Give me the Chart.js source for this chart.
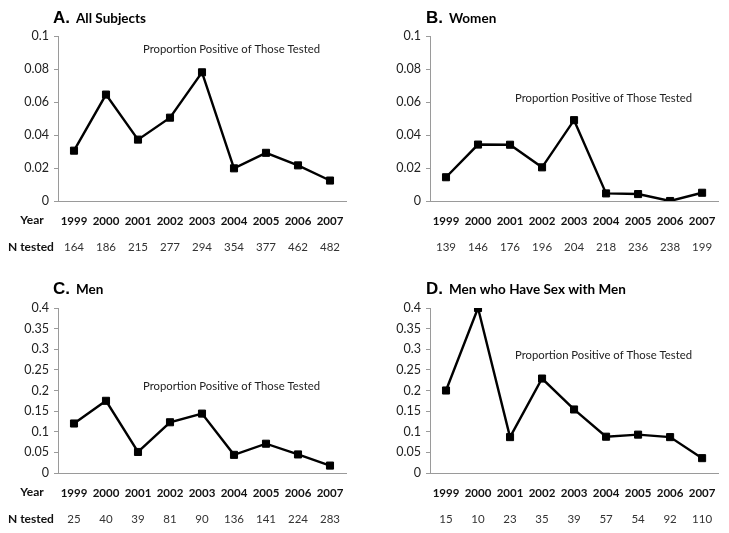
<!DOCTYPE html>
<html>
<head>
<meta charset="utf-8">
<script src="https://cdn.jsdelivr.net/npm/chart.js@4.4.0/dist/chart.umd.min.js"></script>
<style>
body { margin: 0; background: #fff; width: 729px; height: 533px; position: relative; overflow: hidden; }
canvas { position: absolute; }
</style>
</head>
<body>
<canvas id="panelA" width="365" height="260" style="left:0;top:0;width:365px;height:260px"></canvas>
<canvas id="panelB" width="364" height="260" style="left:365px;top:0;width:364px;height:260px"></canvas>
<canvas id="panelC" width="365" height="273" style="left:0;top:260px;width:365px;height:273px"></canvas>
<canvas id="panelD" width="364" height="273" style="left:365px;top:260px;width:364px;height:273px"></canvas>
<script>
var years = ['1999', '2000', '2001', '2002', '2003', '2004', '2005', '2006', '2007'];

var propAll = [0.0305, 0.0645, 0.0372, 0.0505, 0.078, 0.0198, 0.0292, 0.0216, 0.0124];
var nAll = [164, 186, 215, 277, 294, 354, 377, 462, 482];

var propWomen = [0.0144, 0.0342, 0.0341, 0.0204, 0.049, 0.0046, 0.0042, 0, 0.005];
var nWomen = [139, 146, 176, 196, 204, 218, 236, 238, 199];

var propMen = [0.12, 0.175, 0.051, 0.123, 0.144, 0.044, 0.071, 0.045, 0.018];
var nMen = [25, 40, 39, 81, 90, 136, 141, 224, 283];

var propMsm = [0.2, 0.4, 0.087, 0.229, 0.154, 0.088, 0.093, 0.087, 0.036];
var nMsm = [15, 10, 23, 35, 39, 57, 54, 92, 110];

var FONT = 'Lato, "Open Sans", sans-serif';
var axisColor = '#9a9a9a';
var note = 'Proportion Positive of Those Tested';

// titles, the note, the N tested row and the row labels on the left
function textPlugin(o) {
  return {
    id: 'panelText',
    afterDraw: function (chart) {
      var c = chart.ctx;
      var sx = chart.scales.x;
      c.save();
      c.fillStyle = '#000';
      c.textAlign = 'left';
      c.textBaseline = 'alphabetic';
      c.font = 'bold 17px "Liberation Sans", Arial, sans-serif';
      c.fillText(o.letter, o.titleX, o.titleY);
      var w = c.measureText(o.letter).width;
      c.font = 'bold 13.5px ' + FONT;
      c.fillText(o.title, o.titleX + w + 6, o.titleY);

      c.fillStyle = '#222';
      c.font = '11.3px ' + FONT;
      c.textBaseline = 'middle';
      c.fillText(note, o.noteX, o.noteY);

      // N tested under each year, placed by the category scale
      c.font = '11.5px ' + FONT;
      c.fillStyle = '#333';
      c.textAlign = 'center';
      o.n.forEach(function (v, i) {
        c.fillText(String(v), sx.getPixelForValue(i), o.nY);
      });

      if (o.rowLabels) {
        c.fillStyle = '#111';
        c.font = 'bold 12px ' + FONT;
        c.textAlign = 'center';
        c.fillText('Year', 32, o.yearY);
        c.textAlign = 'left';
        c.fillText('N tested', 8, o.nY);
      }
      c.restore();
    }
  };
}

function panel(id, o) {
  var ctx = document.getElementById(id);
  var data = {
    labels: years,
    datasets: [{
      data: o.values,
      borderColor: '#000',
      borderWidth: 2.4,
      tension: 0,
      pointStyle: 'rect',
      pointRadius: 5,
      pointBorderWidth: 1,
      pointBackgroundColor: '#000',
      pointBorderColor: '#000'
    }]
  };
  var config = {
    type: 'line',
    data: data,
    options: {
      responsive: false,
      animation: false,
      layout: { padding: { left: 0, right: o.right, top: o.top, bottom: 0 } },
      plugins: { legend: { display: false }, tooltip: { enabled: false } },
      scales: {
        x: {
          type: 'category',
          offset: true,
          grid: { display: true, drawOnChartArea: false, drawTicks: false, color: axisColor },
          border: { color: axisColor, width: 1 },
          ticks: { padding: o.yearPad, autoSkip: false, maxRotation: 0, color: '#111', font: { family: FONT, size: 11.5, weight: 'bold' } },
          afterFit: function (s) { s.height = o.xh; }
        },
        y: {
          min: 0,
          max: o.max,
          ticks: {
            stepSize: o.step,
            padding: 5,
            color: '#222',
            font: { family: FONT, size: 12.5 },
            callback: function (v) { return String(+v.toFixed(3)); }
          },
          grid: { display: true, drawOnChartArea: false, drawTicks: true, tickLength: 4, color: axisColor },
          border: { color: axisColor, width: 1 },
          afterFit: function (s) { s.width = o.left; }
        }
      }
    },
    plugins: [textPlugin(o)]
  };
  new Chart(ctx, config);
}

panel('panelA', {
  values: propAll, n: nAll, max: 0.1, step: 0.02,
  left: 58, right: 19, top: 36, xh: 59, yearPad: 13,
  letter: 'A.', title: 'All Subjects', titleX: 53, titleY: 23,
  noteX: 143, noteY: 49, yearY: 220, nY: 247, rowLabels: true
});
panel('panelB', {
  values: propWomen, n: nWomen, max: 0.1, step: 0.02,
  left: 65, right: 10, top: 36, xh: 59, yearPad: 13,
  letter: 'B.', title: 'Women', titleX: 61, titleY: 23,
  noteX: 150, noteY: 98, yearY: 220, nY: 247, rowLabels: false
});
panel('panelC', {
  values: propMen, n: nMen, max: 0.4, step: 0.05,
  left: 58, right: 19, top: 48, xh: 60, yearPad: 13,
  letter: 'C.', title: 'Men', titleX: 53, titleY: 34,
  noteX: 143, noteY: 126, yearY: 232, nY: 259, rowLabels: true
});
panel('panelD', {
  values: propMsm, n: nMsm, max: 0.4, step: 0.05,
  left: 65, right: 10, top: 48, xh: 60, yearPad: 13,
  letter: 'D.', title: 'Men who Have Sex with Men', titleX: 61, titleY: 34,
  noteX: 150, noteY: 95, yearY: 232, nY: 259, rowLabels: false
});
</script>
</body>
</html>
